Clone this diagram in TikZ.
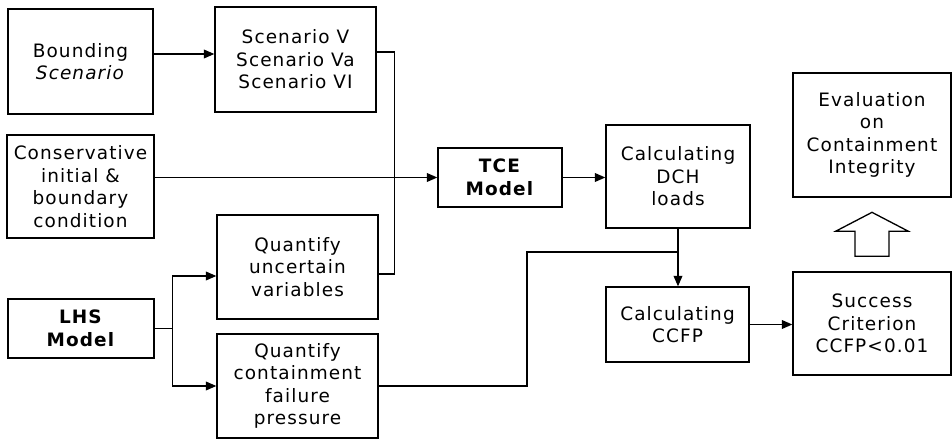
\documentclass[tikz,border=0pt]{standalone}
\usepackage{fontspec}
\setmainfont{DejaVu Sans}[LetterSpace=6]
\usepackage{tikz}
\usetikzlibrary{arrows.meta,positioning}
\tikzset{
  blk/.style={draw=black,line width=0.75pt,align=center,inner sep=2pt,font=\fontsize{10.5}{12.8}\selectfont},
  arr/.style={-{Triangle[length=6pt,width=5pt]},line width=0.75pt,draw=black},
  ln/.style={line width=0.75pt,draw=black},
}
\begin{document}
\begin{tikzpicture}
  \useasboundingbox (0,0) rectangle (19.04,8.8);
  \node[blk,minimum width=2.9cm,minimum height=2.1cm] (bound) at (1.61,7.57) {Bounding\\\textit{Scenario}};
  \node[blk,minimum width=3.22cm,minimum height=2.1cm] (scen) at (5.91,7.61) {Scenario V\\Scenario Va\\Scenario VI};
  \node[blk,minimum width=2.94cm,minimum height=2.06cm] (cons) at (1.61,5.07) {Conservative\\initial \&\\boundary\\condition};
  \node[blk,minimum width=3.22cm,minimum height=2.08cm] (quv) at (5.95,3.46) {Quantify\\uncertain\\variables};
  \node[blk,minimum width=3.22cm,minimum height=2.08cm] (qcf) at (5.95,1.08) {Quantify\\containment\\failure\\pressure};
  \node[blk,minimum width=2.92cm,minimum height=1.18cm] (lhs) at (1.62,2.23) {\textbf{LHS}\\\textbf{Model}};
  \node[blk,minimum width=2.48cm,minimum height=1.18cm] (tce) at (10.0,5.25) {\textbf{TCE}\\\textbf{Model}};
  \node[blk,minimum width=2.88cm,minimum height=2.06cm] (dch) at (13.56,5.27) {Calculating\\DCH\\loads};
  \node[blk,minimum width=2.86cm,minimum height=1.5cm] (ccfp) at (13.55,2.31) {Calculating\\CCFP};
  \node[blk,minimum width=3.16cm,minimum height=2.06cm] (succ) at (17.44,2.33) {Success\\Criterion\\CCFP<0.01};
  \node[blk,minimum width=3.16cm,minimum height=2.48cm] (eval) at (17.44,6.1) {Evaluation\\on\\Containment\\Integrity};
  \draw[arr] ([yshift=0.15cm]bound.east) -- ([yshift=0.15cm]bound.east -| scen.west);
  \draw[ln] ([yshift=0.15cm]scen.east) -- ++(0.36,0) |- ([yshift=-0.14cm]quv.east);
  \draw[arr] (cons.east |- tce.west) -- (tce.west);
  \draw[arr] (tce.east) -- (tce.east -| dch.west);
  \draw[ln] (lhs.east) -- ++(0.36,0) coordinate (lj);
  \draw[arr] (lj) |- ([yshift=-0.18cm]quv.west);
  \draw[arr] (lj) |- (qcf.west);
  \coordinate (jn) at (dch.south |- 0,3.76);
  \draw[ln] (qcf.east) -| (10.54,3.76) -- (jn);
  \draw[arr] (dch.south) -- (dch.south |- ccfp.north);
  \draw[arr] (ccfp.east) -- (ccfp.east -| succ.west);
  \draw[ln,line join=miter] ([xshift=-0.34cm,yshift=0.3cm]succ.north) -- ++(0,0.5) -- ++(-0.39,0) -- ++(0.73,0.38) -- ++(0.73,-0.38) -- ++(-0.39,0) -- ++(0,-0.5) -- cycle;
\end{tikzpicture}
\end{document}
